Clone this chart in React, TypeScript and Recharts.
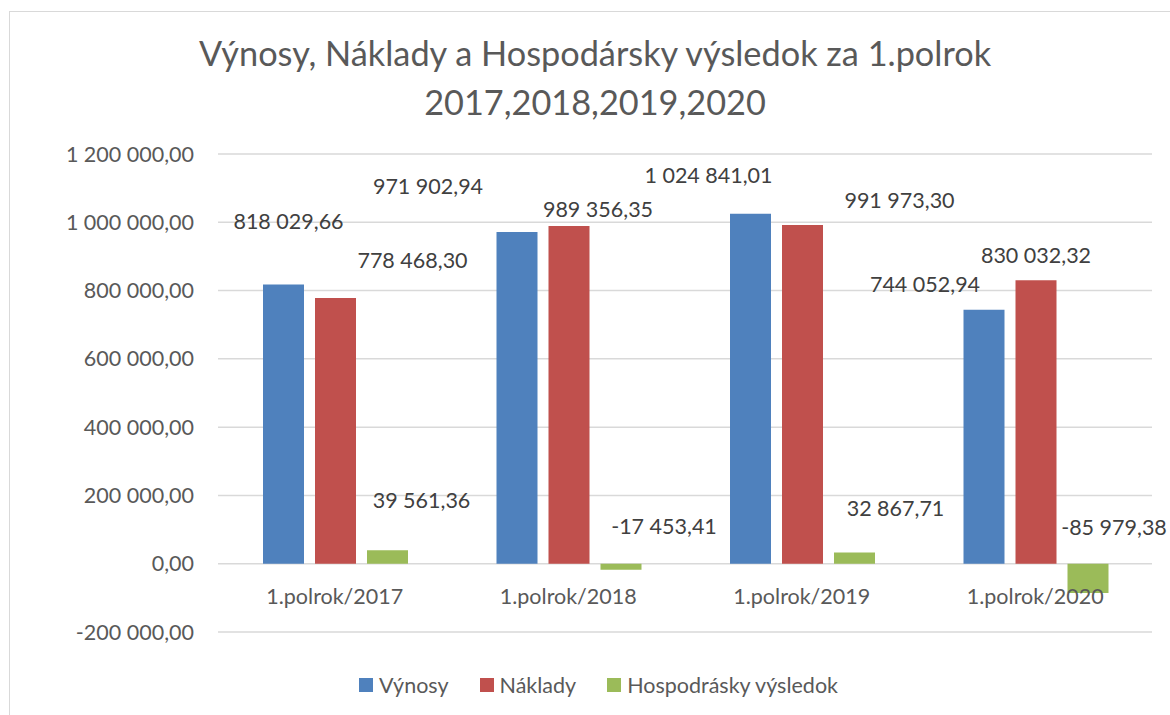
import React from "react";
import {
  BarChart, Bar, XAxis, YAxis, CartesianGrid, Legend, LabelList, ReferenceDot,
} from "recharts";

const categories = ["1.polrok/2017", "1.polrok/2018", "1.polrok/2019", "1.polrok/2020"];
const vynosy = [818029.66, 971902.94, 1024841.01, 744052.94];
const naklady = [778468.3, 989356.35, 991973.3, 830032.32];
const vysledok = [39561.36, -17453.41, 32867.71, -85979.38];
const yTicks = [-200000, 0, 200000, 400000, 600000, 800000, 1000000, 1200000];

const FONT = "Lato, 'Open Sans', sans-serif";
const AXIS_COLOR = "#595959";
const LABEL_COLOR = "#404040";

const series = [
  { key: "vynosy", name: "Výnosy", color: "#4F81BD", values: vynosy },
  { key: "naklady", name: "Náklady", color: "#C0504D", values: naklady },
  { key: "vysledok", name: "Hospodrásky výsledok", color: "#9BBB59", values: vysledok },
];

// the labels in the original were dragged by hand, so each one has its own shift
// (dx from bar centre, dy from bar top)
const LABEL_SHIFT: Record<string, [number, number][]> = {
  vynosy: [[5, -63], [-89, -46], [-42, -39], [-59, -25]],
  naklady: [[77, -38], [29, -17], [97, -25], [0, -25]],
  vysledok: [[34, -50], [43, -37], [41, -44], [26, -36]],
};

const data = categories.map((c, i) => ({
  name: c,
  vynosy: vynosy[i],
  naklady: naklady[i],
  vysledok: vysledok[i],
}));

const fmt = (v: number) => {
  const [int, dec] = Math.abs(v).toFixed(2).split(".");
  return (v < 0 ? "-" : "") + int.replace(/\B(?=(\d{3})+(?!\d))/g, " ") + "," + dec;
};

const makeLabel = (key: string, values: number[]) => (props: any) => {
  const vb = props.viewBox || props;
  const x = Number(vb.x), y = Number(vb.y), w = Number(vb.width), h = Number(vb.height);
  const top = Math.min(y, y + h);
  const idx = props.index ?? values.indexOf(Number(props.value));
  const [dx, dy] = LABEL_SHIFT[key][idx] || [0, -12];
  return (
    <text
      x={x + w / 2 + dx}
      y={top + dy}
      dy="0.36em"
      textAnchor="middle"
      fill={LABEL_COLOR}
      fontSize={21.5}
      fontFamily={FONT}
    >
      {fmt(Number(props.value))}
    </text>
  );
};

const LegendContent = () => (
  <div
    style={{
      display: "flex",
      justifyContent: "center",
      alignItems: "center",
      paddingLeft: 17,
      fontFamily: FONT,
      fontSize: 21.5,
      color: AXIS_COLOR,
      lineHeight: "26px",
    }}
  >
    {series.map((s, i) => (
      <div key={s.key} style={{ display: "flex", alignItems: "center", marginLeft: i ? 31 : 0 }}>
        <span style={{ width: 14, height: 14, background: s.color, marginRight: 6, display: "inline-block" }} />
        <span>{s.name}</span>
      </div>
    ))}
  </div>
);

export default function App() {
  return (
    <div
      style={{
        position: "absolute",
        left: 9,
        top: 11,
        width: 1161,
        height: 704,
        borderLeft: "1px solid #d9d9d9",
        borderTop: "1px solid #d9d9d9",
        boxSizing: "border-box",
        background: "#fff",
      }}
    >
      <div
        style={{
          position: "absolute",
          top: 16,
          left: 20,
          width: 1130,
          textAlign: "center",
          fontFamily: FONT,
          fontSize: 34.3,
          lineHeight: "49px",
          color: AXIS_COLOR,
          zIndex: 1,
        }}
      >
        Výnosy, Náklady a Hospodársky výsledok za 1.polrok
        <br />
        2017,2018,2019,2020
      </div>
      <BarChart
        width={1160}
        height={703}
        data={data}
        margin={{ top: 142, right: 18, bottom: 83, left: 0 }}
        barCategoryGap={45}
        barGap={11}
      >
        <CartesianGrid vertical={false} stroke="#d9d9d9" strokeWidth={1.5} />
        <XAxis dataKey="name" hide />
        <YAxis
          width={208}
          domain={[-200000, 1200000]}
          ticks={yTicks}
          tickFormatter={fmt}
          axisLine={false}
          tickLine={false}
          tickSize={0}
          tickMargin={24}
          tick={{ fill: AXIS_COLOR, fontSize: 21.5, fontFamily: FONT }}
          interval={0}
        />
        <Legend
          layout="horizontal"
          verticalAlign="middle"
          align="center"
          wrapperStyle={{ top: 660, left: 0, width: 1160, height: 26 }}
          content={<LegendContent />}
        />
        {series.map((s) => (
          <Bar key={s.key} dataKey={s.key} name={s.name} fill={s.color} isAnimationActive={false}>
            <LabelList dataKey={s.key} content={makeLabel(s.key, s.values)} />
          </Bar>
        ))}
        {categories.map((c) => (
          <ReferenceDot
            key={c}
            x={c}
            y={0}
            r={0}
            fill="none"
            stroke="none"
            label={{ value: c, position: "bottom", offset: 25, fill: AXIS_COLOR, fontSize: 21.5, fontFamily: FONT }}
          />
        ))}
      </BarChart>
    </div>
  );
}
